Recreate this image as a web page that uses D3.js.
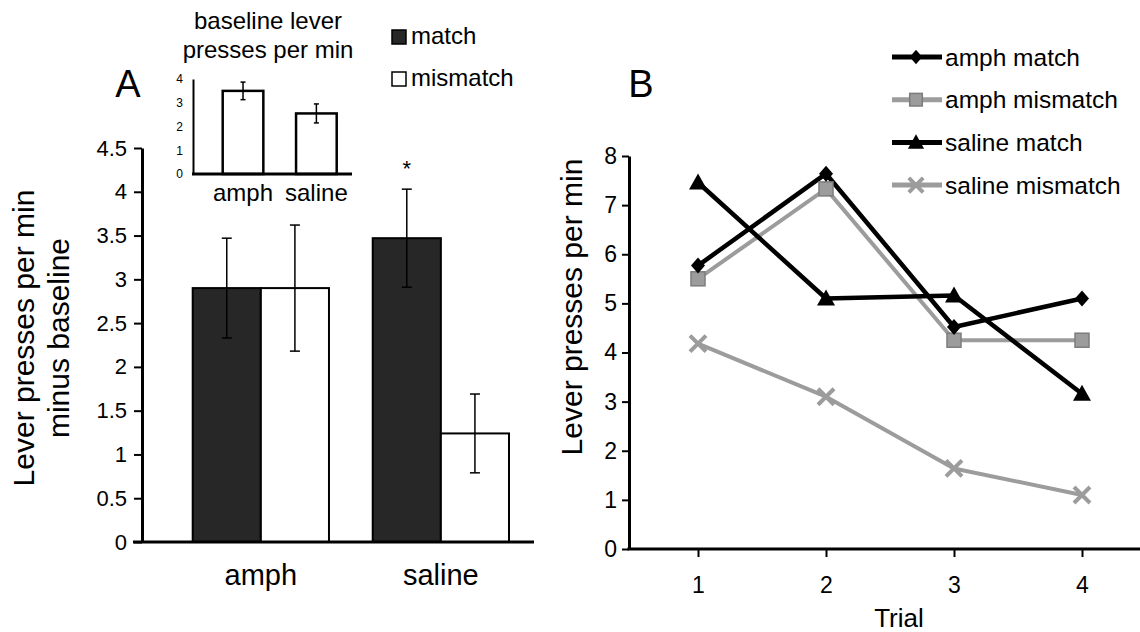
<!DOCTYPE html>
<html><head><meta charset="utf-8">
<script src="https://cdn.jsdelivr.net/npm/d3@7"></script>
<style>
body{margin:0;background:#fff}
text{font-family:"Liberation Sans",Arial,Helvetica,sans-serif;fill:#000}
</style>
</head><body>
<svg id="c" width="1140" height="632"></svg>
<script>
// ---------- data ----------
const groups = ["amph", "saline"];
const conditions = ["match", "mismatch"];
const diffMatch = [2.90, 3.47];
const diffMismatch = [2.90, 1.24];
const errMatch = [0.57, 0.56];
const errMismatch = [0.72, 0.45];
const aTicks = [0, 0.5, 1, 1.5, 2, 2.5, 3, 3.5, 4, 4.5];
const significant = ["saline-match"];

const baselineRate = [3.50, 2.55];
const baselineErr = [0.37, 0.40];
const insetTicks = [0, 1, 2, 3, 4];

const trials = [1, 2, 3, 4];
const seriesNames = ["amph match", "amph mismatch", "saline match", "saline mismatch"];
const amphMatch = [5.77, 7.64, 4.52, 5.10];
const amphMismatch = [5.50, 7.33, 4.25, 4.25];
const salineMatch = [7.46, 5.10, 5.16, 3.16];
const salineMismatch = [4.18, 3.10, 1.64, 1.10];
const bTicks = [0, 1, 2, 3, 4, 5, 6, 7, 8];

// ---------- setup ----------
const svg = d3.select("#c");
const FONT = '"Liberation Sans",Arial,Helvetica,sans-serif';
const DARK = "#272727", GRAY = "#9c9c9c", GRAY_EDGE = "#7c7c7c";

// ================= PANEL A =================
const yA = d3.scaleLinear().domain([0, 4.5]).range([542, 148]);
const xA = d3.scaleBand().domain(groups).range([192.7, 509]).paddingInner(0.243).paddingOuter(0);
const xA2 = d3.scaleBand().domain(conditions).range([0, xA.bandwidth()]).padding(0);
const axisAx = 142;

const barsA = [];
groups.forEach((g, i) => {
  barsA.push({g, c: "match", v: diffMatch[i], e: errMatch[i]});
  barsA.push({g, c: "mismatch", v: diffMismatch[i], e: errMismatch[i]});
});

const gA = svg.append("g");
gA.selectAll("rect.bar").data(barsA).join("rect")
  .attr("x", d => xA(d.g) + xA2(d.c))
  .attr("y", d => yA(d.v))
  .attr("width", xA2.bandwidth())
  .attr("height", d => yA(0) - yA(d.v))
  .attr("fill", d => d.c === "match" ? DARK : "#fff")
  .attr("stroke", "#000").attr("stroke-width", 2);

// error bars
const ebA = gA.selectAll("g.eb").data(barsA).join("g")
  .attr("transform", d => `translate(${xA(d.g) + xA2(d.c) + xA2.bandwidth() / 2},0)`);
ebA.append("line").attr("x1", 0).attr("x2", 0)
  .attr("y1", d => yA(d.v + d.e)).attr("y2", d => yA(d.v - d.e))
  .attr("stroke", "#000").attr("stroke-width", 1.5);
ebA.append("line").attr("x1", -5).attr("x2", 5)
  .attr("y1", d => yA(d.v + d.e)).attr("y2", d => yA(d.v + d.e))
  .attr("stroke", "#000").attr("stroke-width", 1.5);
ebA.append("line").attr("x1", -5).attr("x2", 5)
  .attr("y1", d => yA(d.v - d.e)).attr("y2", d => yA(d.v - d.e))
  .attr("stroke", "#000").attr("stroke-width", 1.5);

// significance star
gA.selectAll("text.star").data(barsA.filter(d => significant.includes(d.g + "-" + d.c))).join("text")
  .attr("x", d => xA(d.g) + xA2(d.c) + xA2.bandwidth() / 2)
  .attr("y", 176).attr("text-anchor", "middle")
  .style("font-size", "22px").text("*");

// y axis
const yAxisA = d3.axisLeft(yA).tickValues(aTicks).tickSize(8).tickSizeOuter(0).tickPadding(7)
  .tickFormat(d => String(d));
const gyA = gA.append("g").attr("transform", `translate(${axisAx},0)`).call(yAxisA);
gyA.select(".domain").attr("stroke-width", 3);
gyA.selectAll(".tick line").attr("stroke-width", 2);
gyA.selectAll(".tick text").style("font-size", "22px").style("font-family", FONT).attr("fill", "#000");

// x axis line
gA.append("line").attr("x1", 133).attr("x2", 534).attr("y1", yA(0)).attr("y2", yA(0))
  .attr("stroke", "#000").attr("stroke-width", 3);

// category labels
gA.selectAll("text.cat").data(groups).join("text")
  .attr("x", d => xA(d) + xA.bandwidth() / 2).attr("y", 585)
  .attr("text-anchor", "middle").style("font-size", "29px").text(d => d);

// y label
const ylabA = gA.append("text").attr("transform", "rotate(-90)").attr("text-anchor", "middle").style("font-size", "30px");
ylabA.append("tspan").attr("x", -338).attr("y", 34).text("Lever presses per min");
ylabA.append("tspan").attr("x", -338).attr("y", 69).text("minus baseline");

// panel letter
gA.append("text").attr("x", 128).attr("y", 97).attr("text-anchor", "middle").style("font-size", "38px").text("A");

// legend A
const legA = gA.selectAll("g.legA").data(conditions).join("g")
  .attr("transform", (d, i) => `translate(392,${30 + i * 42})`);
legA.append("rect").attr("width", 14).attr("height", 14)
  .attr("fill", d => d === "match" ? DARK : "#fff").attr("stroke", "#000").attr("stroke-width", 1.5);
legA.append("text").attr("x", 19).attr("y", 14).style("font-size", "24px").text(d => d);

// ---------- inset ----------
const yI = d3.scaleLinear().domain([0, 4]).range([174, 79]);
const xI = d3.scaleBand().domain(groups).range([222.7, 336.7]).paddingInner(0.446).paddingOuter(0);
const gI = svg.append("g");
const insetData = groups.map((g, i) => ({g, v: baselineRate[i], e: baselineErr[i]}));
gI.selectAll("rect").data(insetData).join("rect")
  .attr("x", d => xI(d.g)).attr("y", d => yI(d.v))
  .attr("width", xI.bandwidth()).attr("height", d => yI(0) - yI(d.v))
  .attr("fill", "#fff").attr("stroke", "#000").attr("stroke-width", 2.5);
const ebI = gI.selectAll("g.eb").data(insetData).join("g")
  .attr("transform", d => `translate(${xI(d.g) + xI.bandwidth() / 2},0)`);
ebI.append("line").attr("y1", d => yI(d.v + d.e)).attr("y2", d => yI(d.v - d.e)).attr("stroke", "#000").attr("stroke-width", 1.5);
ebI.append("line").attr("x1", -2.5).attr("x2", 2.5).attr("y1", d => yI(d.v + d.e)).attr("y2", d => yI(d.v + d.e)).attr("stroke", "#000").attr("stroke-width", 1.5);
ebI.append("line").attr("x1", -2.5).attr("x2", 2.5).attr("y1", d => yI(d.v - d.e)).attr("y2", d => yI(d.v - d.e)).attr("stroke", "#000").attr("stroke-width", 1.5);

const yAxisI = d3.axisLeft(yI).tickValues(insetTicks).tickSize(0).tickSizeOuter(0).tickPadding(10).tickFormat(d => String(d));
const gyI = gI.append("g").attr("transform", "translate(193,0)").call(yAxisI);
gyI.select(".domain").attr("stroke-width", 2);
gyI.selectAll(".tick text").style("font-size", "12px").style("font-family", FONT).attr("fill", "#000");
gI.append("line").attr("x1", 192).attr("x2", 352).attr("y1", yI(0)).attr("y2", yI(0))
  .attr("stroke", "#000").attr("stroke-width", 3);
gI.selectAll("text.cat").data(groups).join("text")
  .attr("x", d => xI(d) + xI.bandwidth() / 2).attr("y", 201)
  .attr("text-anchor", "middle").style("font-size", "24px").text(d => d);
const tI = gI.append("text").attr("text-anchor", "middle").style("font-size", "24px");
tI.append("tspan").attr("x", 268).attr("y", 29).text("baseline lever");
tI.append("tspan").attr("x", 268).attr("y", 58).text("presses per min");

// ================= PANEL B =================
const xB = d3.scaleLinear().domain([1, 4]).range([698, 1082]);
const yB = d3.scaleLinear().domain([0, 8]).range([549, 156]);
const axisBx = 629;
const gB = svg.append("g");

const series = [
  {name: seriesNames[3], vals: salineMismatch, color: GRAY, w: 4, marker: "x"},
  {name: seriesNames[1], vals: amphMismatch, color: GRAY, w: 4, marker: "square"},
  {name: seriesNames[2], vals: salineMatch, color: "#000", w: 4.5, marker: "triangle"},
  {name: seriesNames[0], vals: amphMatch, color: "#000", w: 4.5, marker: "diamond"}
];

function drawMarker(sel, type, s) {
  s = s || 1;
  if (type === "diamond") {
    sel.append("path").attr("d", `M0,${-8*s}L${7*s},0L0,${8*s}L${-7*s},0Z`).attr("fill", "#000");
  } else if (type === "square") {
    sel.append("rect").attr("x", -7*s).attr("y", -7*s).attr("width", 14*s).attr("height", 14*s)
      .attr("fill", GRAY).attr("stroke", GRAY_EDGE).attr("stroke-width", 1.5);
  } else if (type === "triangle") {
    sel.append("path").attr("d", `M0,${-9*s}L${9*s},${7*s}L${-9*s},${7*s}Z`).attr("fill", "#000");
  } else if (type === "x") {
    sel.append("path").attr("d", `M${-8*s},${-8*s}L${8*s},${8*s}M${8*s},${-8*s}L${-8*s},${8*s}`)
      .attr("stroke", GRAY).attr("stroke-width", 4).attr("fill", "none");
  }
}

const line = d3.line().x((d, i) => xB(trials[i])).y(d => yB(d));
series.forEach(s => {
  gB.append("path").attr("d", line(s.vals)).attr("fill", "none")
    .attr("stroke", s.color).attr("stroke-width", s.w).attr("stroke-linejoin", "round");
});
series.forEach(s => {
  gB.selectAll(null).data(s.vals).join("g")
    .attr("transform", (d, i) => `translate(${xB(trials[i])},${yB(d)})`)
    .each(function () { drawMarker(d3.select(this), s.marker); });
});

// axes B
const yAxisB = d3.axisLeft(yB).tickValues(bTicks).tickSize(7).tickSizeOuter(0).tickPadding(5)
  .tickFormat(d3.format("d"));
const gyB = gB.append("g").attr("transform", `translate(${axisBx},0)`).call(yAxisB);
gyB.select(".domain").attr("stroke-width", 3);
gyB.selectAll(".tick line").attr("stroke-width", 2);
gyB.selectAll(".tick text").style("font-size", "23px").style("font-family", FONT).attr("fill", "#000");

const xAxisB = d3.axisBottom(xB).tickValues(trials).tickSize(8).tickSizeOuter(0).tickPadding(20)
  .tickFormat(d3.format("d"));
const gxB = gB.append("g").attr("transform", `translate(0,${yB(0)})`).call(xAxisB);
gxB.select(".domain").remove();
gxB.selectAll(".tick line").attr("stroke-width", 2);
gxB.selectAll(".tick text").style("font-size", "23px").style("font-family", FONT).attr("fill", "#000");
gB.append("line").attr("x1", axisBx - 1.5).attr("x2", 1140).attr("y1", yB(0)).attr("y2", yB(0))
  .attr("stroke", "#000").attr("stroke-width", 3);

gB.append("text").attr("x", 899).attr("y", 627).attr("text-anchor", "middle").style("font-size", "26px").text("Trial");
gB.append("text").attr("transform", "rotate(-90)").attr("x", -307).attr("y", 582)
  .attr("text-anchor", "middle").style("font-size", "30px").text("Lever presses per min");
gB.append("text").attr("x", 641).attr("y", 97).attr("text-anchor", "middle").style("font-size", "38px").text("B");

// legend B
const legOrder = [series[3], series[1], series[2], series[0]];
const legB = gB.selectAll("g.legB").data(legOrder).join("g")
  .attr("transform", (d, i) => `translate(892,${57 + i * 42.7})`);
legB.append("line").attr("x1", 0).attr("x2", 50).attr("stroke", d => d.color).attr("stroke-width", 5);
legB.each(function (d) {
  const m = d3.select(this).append("g").attr("transform", "translate(24,0)");
  drawMarker(m, d.marker, 0.9);
});
legB.append("text").attr("x", 53).attr("y", 8.5).style("font-size", "24.5px").text(d => d.name);
</script>
</body></html>
